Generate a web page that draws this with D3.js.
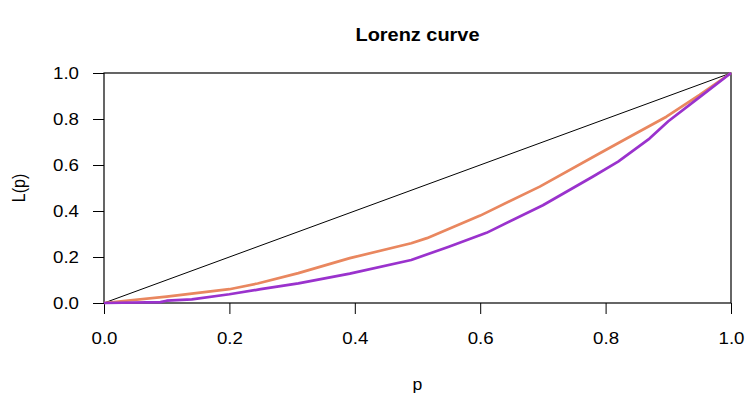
<!DOCTYPE html>
<html>
<head>
<meta charset="utf-8">
<script src="https://cdn.jsdelivr.net/npm/d3@7"></script>
<style>
  html, body { margin: 0; padding: 0; background: #fff; }
  text { font-family: "Liberation Sans", Arial, sans-serif; fill: #000; }
</style>
</head>
<body>
<svg id="chart" width="745" height="400"></svg>
<script>
const xTicks = [0, 0.2, 0.4, 0.6, 0.8, 1.0];
const yTicks = [0, 0.2, 0.4, 0.6, 0.8, 1.0];

const orangeP = [0, 0.1, 0.2, 0.245, 0.31, 0.392, 0.49, 0.515, 0.6, 0.695, 0.79, 0.84, 0.897, 0.95, 1.0];
const orangeL = [0, 0.028, 0.06, 0.085, 0.13, 0.195, 0.26, 0.282, 0.38, 0.506, 0.65, 0.725, 0.81, 0.905, 1.0];

const purpleP = [0, 0.09, 0.1, 0.14, 0.2, 0.25, 0.31, 0.392, 0.49, 0.55, 0.61, 0.7, 0.78, 0.82, 0.87, 0.9, 0.95, 1.0];
const purpleL = [0, 0.004, 0.01, 0.016, 0.038, 0.06, 0.085, 0.128, 0.187, 0.245, 0.305, 0.425, 0.55, 0.615, 0.715, 0.79, 0.895, 1.0];

const equalityP = [0, 1];
const equalityL = [0, 1];

const svg = d3.select("#chart");
const mLeft = 104, mRight = 731, mTop = 73, mBottom = 303;
const sx = 1.1; // horizontal stretch of the text, as in the reference

const x = d3.scaleLinear().domain([0, 1]).range([mLeft, mRight]);
const y = d3.scaleLinear().domain([0, 1]).range([mBottom, mTop]);

// title
svg.append("text")
  .attr("transform", `translate(${(mLeft + mRight) / 2},41) scale(1.05,1)`)
  .attr("text-anchor", "middle")
  .style("font-size", "19px").style("font-weight", "bold")
  .text("Lorenz curve");

// axes
const xAxis = d3.axisBottom(x).tickValues(xTicks).tickFormat(d3.format(".1f")).tickSize(11).tickPadding(18);
const gx = svg.append("g").attr("transform", `translate(0,${mBottom})`).call(xAxis);
gx.select(".domain").remove();
gx.selectAll("line").attr("stroke", "#000");
gx.selectAll("text").style("font-size", "17px").attr("transform", `scale(${sx},1)`);

const yAxis = d3.axisLeft(y).tickValues(yTicks).tickFormat(d3.format(".1f")).tickSize(11).tickPadding(11);
const gy = svg.append("g").attr("transform", `translate(${mLeft},0)`).call(yAxis);
gy.select(".domain").remove();
gy.selectAll("line").attr("stroke", "#000");
gy.selectAll("text").style("font-size", "17px")
  .attr("x", -25 / sx)
  .attr("transform", `scale(${sx},1)`);

// axis labels
svg.append("text")
  .attr("transform", `translate(${(mLeft + mRight) / 2},390) scale(${sx},1)`)
  .attr("text-anchor", "middle").style("font-size", "16px")
  .text("p");
svg.append("text")
  .attr("transform", `translate(25,${(mTop + mBottom) / 2}) rotate(-90) scale(1,${sx})`)
  .attr("text-anchor", "middle").style("font-size", "16px")
  .text("L(p)");

// box
svg.append("rect")
  .attr("x", mLeft).attr("y", mTop)
  .attr("width", mRight - mLeft).attr("height", mBottom - mTop)
  .attr("fill", "none").attr("stroke", "#000").attr("stroke-width", 1.2);

const line = d3.line().x(d => x(d[0])).y(d => y(d[1]));

svg.append("path")
  .datum(equalityP.map((p, i) => [p, equalityL[i]]))
  .attr("d", line).attr("fill", "none").attr("stroke", "#000").attr("stroke-width", 1);

svg.append("path")
  .datum(orangeP.map((p, i) => [p, orangeL[i]]))
  .attr("d", line).attr("fill", "none").attr("stroke", "#E9875F").attr("stroke-width", 2.7)
  .attr("stroke-linejoin", "round");

svg.append("path")
  .datum(purpleP.map((p, i) => [p, purpleL[i]]))
  .attr("d", line).attr("fill", "none").attr("stroke", "#9A32CD").attr("stroke-width", 2.7)
  .attr("stroke-linejoin", "round");
</script>
</body>
</html>
